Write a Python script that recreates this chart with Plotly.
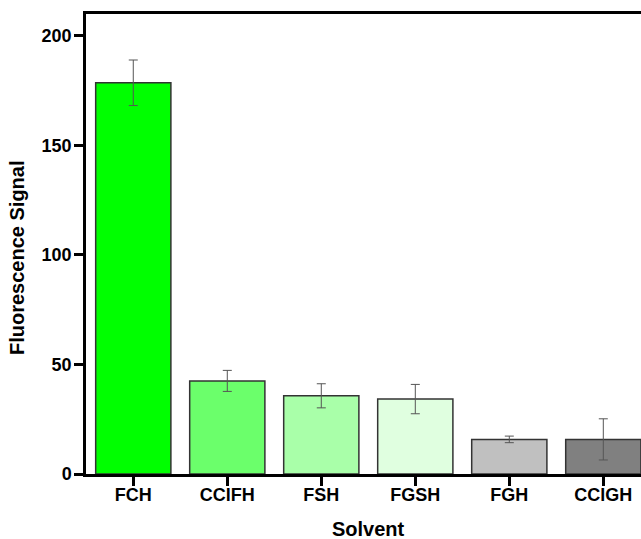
import plotly.graph_objects as go

categories = ["FCH", "CClFH", "FSH", "FGSH", "FGH", "CClGH"]
values = [178.6, 42.5, 35.7, 34.2, 15.8, 15.8]
errors = [10.4, 4.8, 5.5, 6.7, 1.5, 9.4]
colors = ["#00FF00", "#6BFF6B", "#A9FFA9", "#E0FFE0", "#C0C0C0", "#808080"]
y_ticks = [0, 50, 100, 150, 200]

FONT = "Arial, 'Liberation Sans', sans-serif"

W, H = 641, 539
L, R, T, B = 86, 0, 14, 65
pw = W - L - R
ph = H - T - B

fig = go.Figure()
fig.add_trace(go.Bar(
    x=list(range(len(categories))),
    y=values,
    width=0.8,
    marker=dict(color=colors, line=dict(color="#333333", width=1.5)),
    error_y=dict(type="data", array=errors, visible=True,
                 color="#555555", thickness=1, width=4.5),
))

fig.update_layout(
    width=W, height=H,
    margin=dict(l=L, r=R, t=T, b=B, pad=0),
    paper_bgcolor="white", plot_bgcolor="white",
    showlegend=False,
    font=dict(family=FONT, color="black"),
    xaxis=dict(
        range=[-0.503, 5.401],
        tickmode="array",
        tickvals=list(range(len(categories))),
        ticktext=categories,
        tickfont=dict(family=FONT, size=18, weight="bold", color="black"),
        showline=True, linecolor="black", linewidth=2.5,
        mirror=True,
        ticks="outside", ticklen=9, tickwidth=2.5, tickcolor="black",
        ticklabelstandoff=-6,
        showgrid=False, zeroline=False,
    ),
    yaxis=dict(
        range=[0, 210],
        tickmode="array",
        tickvals=y_ticks,
        ticktext=[str(v) for v in y_ticks],
        tickfont=dict(family=FONT, size=18, weight="bold", color="black"),
        showline=True, linecolor="black", linewidth=2.5,
        mirror=False,
        ticks="outside", ticklen=9, tickwidth=2.5, tickcolor="black",
        ticklabelstandoff=-1,
        showgrid=False, zeroline=False,
    ),
    annotations=[
        dict(text="Solvent", xref="paper", yref="paper",
             x=(368 - L) / pw, y=(H - B - 529) / ph,
             xanchor="center", yanchor="middle", showarrow=False,
             font=dict(family=FONT, size=20, weight="bold", color="black")),
        dict(text="Fluorescence Signal", xref="paper", yref="paper",
             x=(17 - L) / pw, y=(H - B - 258) / ph, textangle=-90,
             xanchor="center", yanchor="middle", showarrow=False,
             font=dict(family=FONT, size=20, weight="bold", color="black")),
    ],
)

fig.write_html(
    "out.html",
    config={"displayModeBar": False},
    post_script="document.body.style.margin='0';document.body.style.overflow='hidden';",
)
